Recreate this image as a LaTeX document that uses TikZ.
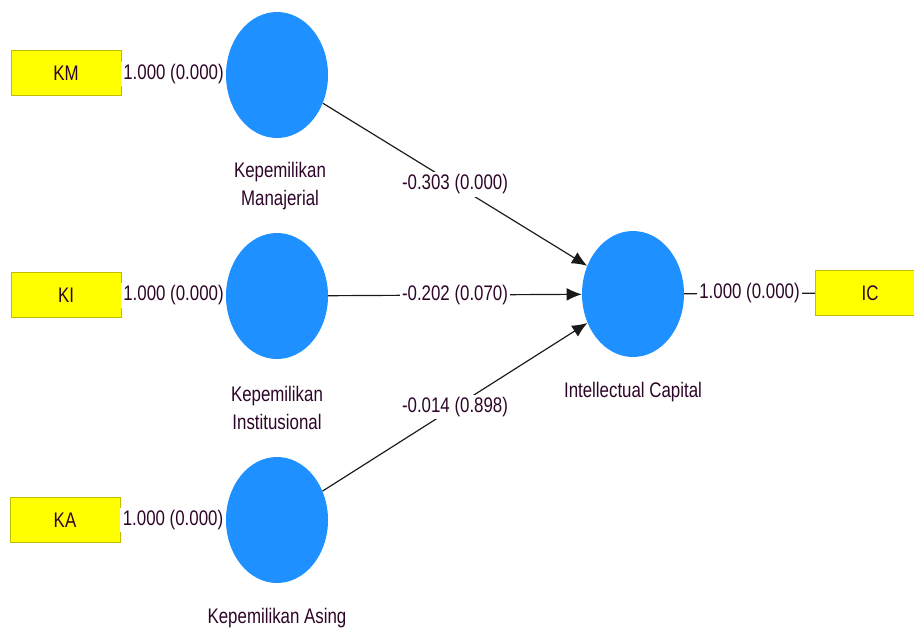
\documentclass[tikz,border=0pt]{standalone}
\usepackage{fontspec}
\setmainfont{Liberation Sans}[FakeStretch=0.8]
\usetikzlibrary{shapes.geometric,arrows.meta}
\definecolor{latblue}{RGB}{30,144,255}
\definecolor{indyellow}{RGB}{255,255,0}
\definecolor{indedge}{RGB}{190,190,0}
\definecolor{txtdark}{RGB}{45,5,40}

\begin{document}
\begin{tikzpicture}[x=0.03cm,y=-0.03cm,
    every node/.style={text=txtdark,font=\fontsize{18}{24}\selectfont},
    ind/.style={draw=indedge,fill=indyellow,minimum width=3.3cm,minimum height=1.35cm,inner sep=0pt},
    lat/.style={ellipse,fill=latblue,minimum width=3.06cm,minimum height=3.78cm,inner sep=0pt},
    lab/.style={fill=white,inner sep=2pt},
    link/.style={draw=black!90,line width=1pt},
    path/.style={link,-{Latex[length=13pt,width=11pt]}}]
        \useasboundingbox (0,0) rectangle (914,633);
        % indicators
        \node[ind] (km) at (66,73) {KM};
        \node[ind] (ki) at (66,295) {KI};
        \node[ind] (ka) at (65,520) {KA};
        \node[ind] (icbox) at (870,293) {IC};
        % latent variables
        \node[lat] (mj) at (277,75) {};
        \node[lat] (in) at (277,296) {};
        \node[lat] (as) at (277,520) {};
        \node[lat] (ic) at (633,294) {};
        \node[align=center] (mjname) at (280,186) {Kepemilikan\\Manajerial};
        \node[align=center] (inname) at (277,408) {Kepemilikan\\Institusional};
        \node (asname) at (277,618) {Kepemilikan Asing};
        \node (icname) at (633,392) {Intellectual Capital};
        % outer loadings
        \draw[link] (km) -- node[lab] {1.000 (0.000)} (mj);
        \draw[link] (ki) -- node[lab] {1.000 (0.000)} (in);
        \draw[link] (ka) -- node[lab] {1.000 (0.000)} (as);
        \draw[link] (ic) -- node[lab] {1.000 (0.000)} (icbox);
        % path coefficients
        \draw[path] (mj) -- node[lab] {-0.303 (0.000)} (ic);
        \draw[path] (in) -- node[lab] {-0.202 (0.070)} (ic);
        \draw[path] (as) -- node[lab] {-0.014 (0.898)} (ic);
\end{tikzpicture}
\end{document}
